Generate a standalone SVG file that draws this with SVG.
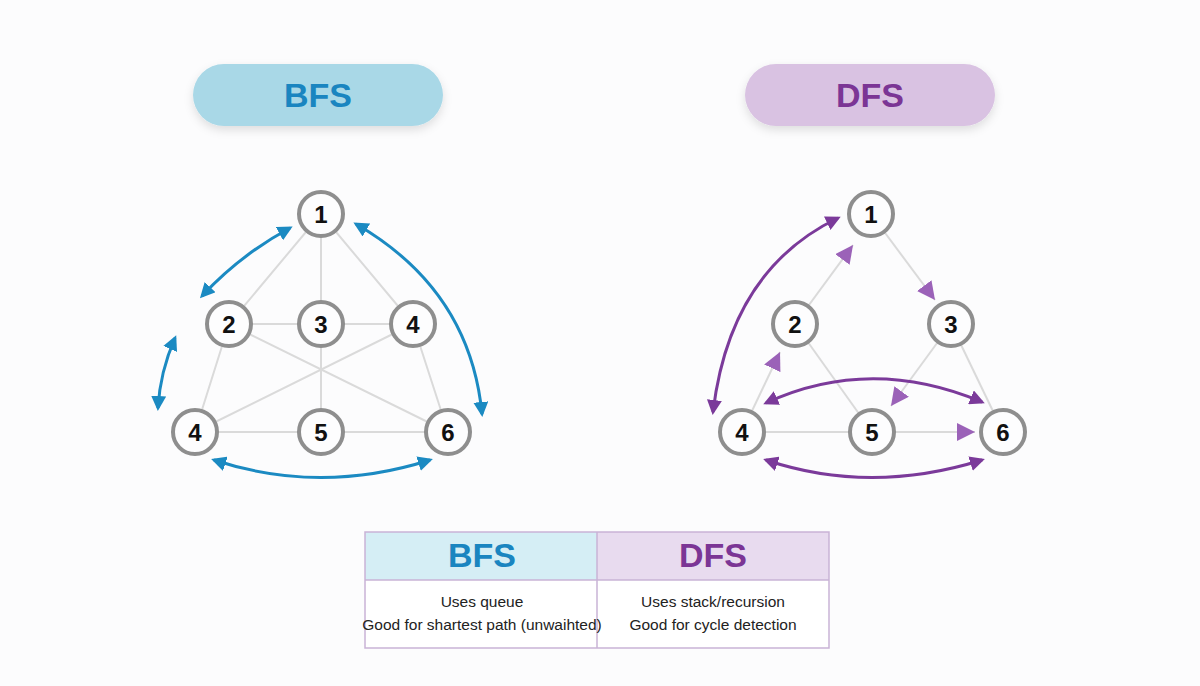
<svg xmlns="http://www.w3.org/2000/svg" width="1200" height="686" viewBox="0 0 1200 686">
<defs>
<filter id="sh" x="-20%" y="-40%" width="140%" height="180%"><feDropShadow dx="0" dy="4" stdDeviation="5" flood-color="#000" flood-opacity="0.12"/></filter>
<marker id="ab" viewBox="0 0 10 10" refX="8" refY="5" markerWidth="5" markerHeight="5" orient="auto-start-reverse"><path d="M0,0L10,5L0,10z" fill="#1b8ac2"/></marker>
<marker id="ap" viewBox="0 0 10 10" refX="8" refY="5" markerWidth="5" markerHeight="5" orient="auto-start-reverse"><path d="M0,0L10,5L0,10z" fill="#7b3a9a"/></marker>
<marker id="al" viewBox="0 0 10 10" refX="10" refY="5" markerWidth="9" markerHeight="9" orient="auto"><path d="M0,0L10,5L0,10z" fill="#9b62b8"/></marker>
</defs>
<style>
.n circle{fill:#fdfdfe;stroke:#8e8e8e;stroke-width:4}
.n text{font-family:"Liberation Sans",Arial,sans-serif;font-weight:bold;font-size:24px;fill:#111;text-anchor:middle}
.e{stroke:#dadada;stroke-width:2;fill:none}
.b{stroke:#1b8ac2;stroke-width:3;fill:none;marker-start:url(#ab);marker-end:url(#ab)}
.p{stroke:#7b3a9a;stroke-width:3;fill:none;marker-start:url(#ap);marker-end:url(#ap)}
.t{font-family:"Liberation Sans",Arial,sans-serif;font-size:15.5px;fill:#222;text-anchor:middle}
.h{font-family:"Liberation Sans",Arial,sans-serif;font-weight:bold;font-size:34px;text-anchor:middle}
</style>
<rect width="1200" height="686" fill="#fcfcfd"/>
<g id="bfs-title"><rect x="193" y="64" width="250" height="62" rx="31" fill="#a9d8e7" filter="url(#sh)"/><text x="318" y="107" class="h" fill="#1a85c0">BFS</text></g>
<g id="dfs-title"><rect x="745" y="64" width="250" height="62" rx="31" fill="#d9c2e2" filter="url(#sh)"/><text x="870" y="107" class="h" fill="#7b3595">DFS</text></g>
<g id="connectors">
<path class="e" d="M321,214L229,324M321,214L321,324M321,214L413,324M229,324L413,324M229,324L195,432M229,324L448,432M413,324L195,432M413,324L448,432M321,324L321,432M195,432L448,432"/>
<path class="b" d="M290,228Q240,255 202,296"/>
<path class="b" d="M175,338Q160,372 158,408"/>
<path class="b" d="M356,224Q470,290 482,414"/>
<path class="b" d="M214,460Q320,495 430,460"/>
<path class="e" d="M795,324L853,245" marker-end="url(#al)"/>
<path class="e" d="M871,214L935,300" marker-end="url(#al)"/>
<path class="e" d="M742,432L780,352" marker-end="url(#al)"/>
<path class="e" d="M795,324L872,432"/>
<path class="e" d="M951,324L891,406" marker-end="url(#al)"/>
<path class="e" d="M951,324L1003,432"/>
<path class="e" d="M742,432L872,432"/>
<path class="e" d="M872,432L975,432" marker-end="url(#al)"/>
<path class="p" d="M713,412Q730,270 838,218"/>
<path class="p" d="M766,403Q870,355 982,402"/>
<path class="p" d="M766,460Q870,495 982,460"/>
</g>
<g id="b1" class="n"><circle cx="321" cy="214" r="22"/><text x="321" y="223">1</text></g>
<g id="b2" class="n"><circle cx="229" cy="324" r="22"/><text x="229" y="333">2</text></g>
<g id="b3" class="n"><circle cx="321" cy="324" r="22"/><text x="321" y="333">3</text></g>
<g id="b4" class="n"><circle cx="413" cy="324" r="22"/><text x="413" y="333">4</text></g>
<g id="b4b" class="n"><circle cx="195" cy="432" r="22"/><text x="195" y="441">4</text></g>
<g id="b5" class="n"><circle cx="321" cy="432" r="22"/><text x="321" y="441">5</text></g>
<g id="b6" class="n"><circle cx="448" cy="432" r="22"/><text x="448" y="441">6</text></g>
<g id="d1" class="n"><circle cx="871" cy="214" r="22"/><text x="871" y="223">1</text></g>
<g id="d2" class="n"><circle cx="795" cy="324" r="22"/><text x="795" y="333">2</text></g>
<g id="d3" class="n"><circle cx="951" cy="324" r="22"/><text x="951" y="333">3</text></g>
<g id="d4" class="n"><circle cx="742" cy="432" r="22"/><text x="742" y="441">4</text></g>
<g id="d5" class="n"><circle cx="872" cy="432" r="22"/><text x="872" y="441">5</text></g>
<g id="d6" class="n"><circle cx="1003" cy="432" r="22"/><text x="1003" y="441">6</text></g>
<g id="table">
<rect x="365" y="532" width="232" height="48" fill="#d5eef5"/>
<rect x="597" y="532" width="232" height="48" fill="#e8dbef"/>
<rect x="365" y="580" width="464" height="68" fill="#fff"/>
<path d="M597,532V648" stroke="#c9b3d6" stroke-width="1.5"/>
<path d="M365,580H829" stroke="#c9b3d6" stroke-width="1.5"/>
<rect x="365" y="532" width="464" height="116" fill="none" stroke="#c9b3d6" stroke-width="1.5"/>
<text x="482" y="567" class="h" font-size="29" fill="#1a85c0">BFS</text>
<text x="713" y="567" class="h" font-size="29" fill="#7b3595">DFS</text>
<text x="482" y="607" class="t">Uses queue</text>
<text x="482" y="630" class="t">Good for shartest path (unwaihted)</text>
<text x="713" y="607" class="t">Uses stack/recursion</text>
<text x="713" y="630" class="t">Good for cycle detection</text>
</g>
</svg>
